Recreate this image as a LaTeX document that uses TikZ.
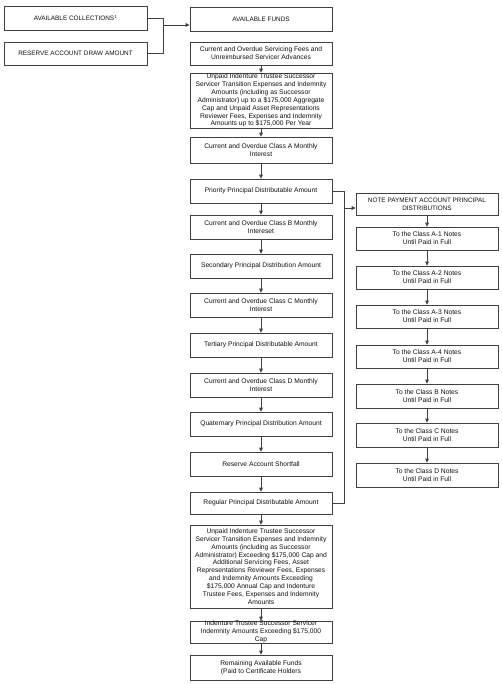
\documentclass[tikz,border=0pt]{standalone}
\usepackage{fontspec}
\setmainfont{Liberation Sans}
\usetikzlibrary{arrows.meta}
\definecolor{ln}{HTML}{404040}
\definecolor{tx}{HTML}{111111}
\tikzset{
  box/.style={draw=ln, line width=0.7pt, minimum width=142, inner sep=0pt, align=center,
    text=tx, font=\fontsize{6.7}{7.9}\selectfont},
  capbox/.style={box, font=\fontsize{6.4}{7.9}\selectfont},
  conn/.style={draw=ln, line width=0.8pt},
  arr/.style={conn, -{Triangle[length=4pt,width=3.6pt]}}
}
\begin{document}
\begin{tikzpicture}[x=1pt,y=-1pt]
\useasboundingbox[fill=white] (0,0) rectangle (501,684);
% left inputs
\node[capbox, minimum width=143, minimum height=24] (coll) at (75.5,18) {AVAILABLE COLLECTIONS\textsuperscript{1}};
\node[capbox, minimum width=143, minimum height=23] (res) at (75.5,53.5) {RESERVE ACCOUNT DRAW AMOUNT};
% main column
\node[capbox, minimum height=24] (funds) at (261,19) {AVAILABLE FUNDS};
\node[box, minimum height=23] (serv) at (261,53.5) {Current and Overdue Servicing Fees and\\Unreimbursed Servicer Advances};
\node[box, minimum height=55] (unp) at (261,100.5) {Unpaid Indenture Trustee Successor\\Servicer Transition Expenses and Indemnity\\Amounts (including as Successor\\Administrator) up to a \$175,000 Aggregate\\Cap and Unpaid Asset Representations\\Reviewer Fees, Expenses and Indemnity\\Amounts up to \$175,000 Per Year};
\node[box, minimum height=26] (ca) at (261,150) {Current and Overdue Class A Monthly\\Interest};
\node[box, minimum height=24] (prio) at (261,191) {Priority Principal Distributable Amount};
\node[box, minimum height=24] (cb) at (261,227) {Current and Overdue Class B Monthly\\Intereset};
\node[box, minimum height=24] (sec) at (261,266) {Secondary Principal Distribution Amount};
\node[box, minimum height=24] (cc) at (261,305) {Current and Overdue Class C Monthly\\Interest};
\node[box, minimum height=24] (ter) at (261,345) {Tertiary Principal Distributable Amount};
\node[box, minimum height=24] (cd) at (261,385) {Current and Overdue Class D Monthly\\Interest};
\node[box, minimum height=24] (qua) at (261,424) {Quaternary Principal Distribution Amount};
\node[box, minimum height=24] (rsf) at (261,464) {Reserve Account Shortfall};
\node[box, minimum height=22] (reg) at (261,503) {Regular Principal Distributable Amount};
\node[box, minimum height=83] (exc) at (261,566.5) {Unpaid Indenture Trustee Successor\\Servicer Transition Expenses and Indemnity\\Amounts (including as Successor\\Administrator) Exceeding \$175,000 Cap and\\Additional Servicing Fees, Asset\\Representations Reviewer Fees, Expenses\\and Indemnity Amounts Exceeding\\\$175,000 Annual Cap and Indenture\\Trustee Fees, Expenses and Indemnity\\Amounts};
\node[box, minimum height=22] (ind) at (261,632) {Indenture Trustee Successor Servicer\\Indemnity Amounts Exceeding \$175,000\\Cap};
\node[box, minimum height=25] (rem) at (261,667.5) {Remaining Available Funds\\(Paid to Certificate Holders};
% right column
\node[capbox, minimum height=22] (note) at (427,204) {NOTE PAYMENT ACCOUNT PRINCIPAL\\DISTRIBUTIONS};
\node[box, minimum height=23] (a1) at (427,238.5) {To the Class A-1 Notes\\Until Paid in Full};
\node[box, minimum height=23] (a2) at (427,277.5) {To the Class A-2 Notes\\Until Paid in Full};
\node[box, minimum height=23] (a3) at (427,316.5) {To the Class A-3 Notes\\Until Paid in Full};
\node[box, minimum height=23] (a4) at (427,356.5) {To the Class A-4 Notes\\Until Paid in Full};
\node[box, minimum height=24] (nb) at (427,396) {To the Class B Notes\\Until Paid in Full};
\node[box, minimum height=24] (nc) at (427,435) {To the Class C Notes\\Until Paid in Full};
\node[box, minimum height=24] (nd) at (427,475) {To the Class D Notes\\Until Paid in Full};
% junctions
\coordinate (jl) at (163,25);
\coordinate (jr) at (344,208);
% connectors
\draw[conn] (coll.east) -| (jl);
\draw[conn] (res.east) -| (jl);
\draw[arr] (jl) -- (jl -| funds.west);
\draw[conn] (prio.east) -| (jr);
\draw[conn] (reg.east) -| (jr);
\draw[arr] (jr) -- (jr -| note.west);
\foreach \a/\b in {serv/unp,unp/ca,ca/prio,prio/cb,cb/sec,sec/cc,cc/ter,ter/cd,cd/qua,qua/rsf,rsf/reg,reg/exc,exc/ind,ind/rem,note/a1,a1/a2,a2/a3,a3/a4,a4/nb,nb/nc,nc/nd}
  \draw[arr] (\a.south) -- (\b.north);
\end{tikzpicture}
\end{document}
